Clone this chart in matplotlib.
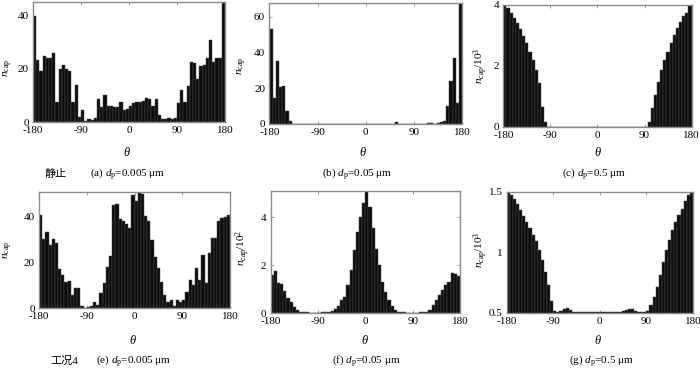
import numpy as np
import matplotlib
matplotlib.use("Agg")
import matplotlib.pyplot as plt

plt.rcParams['font.family'] = ['Liberation Serif', 'Noto Sans CJK SC']
plt.rcParams['mathtext.fontset'] = 'custom'
plt.rcParams['mathtext.rm'] = 'Liberation Serif'
plt.rcParams['mathtext.it'] = 'Liberation Serif:italic'

# 6-degree bins from -180 to 180
theta_left = np.arange(-180, 180, 6)

a_vals = [40, 23.3, 19, 25, 24, 24, 26, 7.5, 20, 21.5,
          20, 19, 7.5, 14, 2, 4.5, 0.5, 1, 0.7, 1.5,
          8.5, 5.5, 10, 6, 6, 5.5, 5.5, 7.5, 4.5, 5,
          6, 7, 7.5, 7.5, 8, 9, 8.5, 6, 8.5, 2.5,
          1, 1, 1.5, 1, 1.5, 7, 12, 7.5, 13.5, 22.5,
          22, 16, 21, 21.5, 24, 31, 22.5, 24, 24, 48]

b_vals = [53, 14.5, 35, 20.5, 21.5, 7.5, 1.5, 0, 0, 0,
          0, 0, 0, 0, 0, 0, 0, 0, 0, 0,
          0, 0, 0, 0, 0, 0, 0, 0, 0, 0,
          0, 0, 0, 0, 0, 0, 0, 0, 0, 1,
          0, 0, 0, 0, 0, 0, 0, 0, 0, 0.8,
          0.8, 0, 0.5, 1, 1.5, 10, 24, 37, 12, 70]

c_vals = [4.0, 3.88, 3.74, 3.58, 3.39, 3.19, 2.97, 2.73, 2.46, 2.19,
          1.86, 1.42, 0.66, 0.16, 0, 0, 0, 0, 0, 0,
          0, 0, 0, 0, 0, 0, 0, 0, 0, 0,
          0, 0, 0, 0, 0, 0, 0, 0, 0, 0,
          0, 0, 0, 0, 0, 0, 0.16, 0.6, 1.04, 1.48,
          1.86, 2.19, 2.46, 2.73, 3.0, 3.22, 3.44, 3.63, 3.72, 4.05]

e_vals = [41, 30.5, 33.5, 27.5, 30.5, 28.5, 17, 14.5, 11.5, 12,
          6, 9, 9, 0.8, 0.3, 0.5, 1, 2.6, 1.5, 6.6,
          11, 18, 23, 45, 45.5, 39, 38, 37, 35, 49.5,
          47, 51, 50, 40.5, 38, 30, 22.5, 17.5, 11.7, 5.8,
          2.9, 3.6, 1, 3.6, 2.6, 3.6, 7, 12.4, 10, 17.8,
          12.4, 23.4, 11, 24, 30.7, 30.7, 38, 39.4, 40, 41]

f_vals = [1.6, 1.76, 1.25, 1.21, 0.93, 0.65, 0.49, 0.28, 0.14, 0.07,
          0.05, 0.04, 0.03, 0.03, 0.03, 0.03, 0.04, 0.05, 0.06, 0.08,
          0.18, 0.32, 0.55, 0.69, 1.18, 1.8, 2.64, 3.4, 4.0, 4.6,
          5.2, 4.44, 3.54, 2.7, 2.0, 1.32, 0.87, 0.55, 0.32, 0.14,
          0.07, 0.05, 0.04, 0.03, 0.03, 0.03, 0.03, 0.04, 0.05, 0.07,
          0.14, 0.35, 0.55, 0.76, 0.97, 1.18, 1.32, 1.67, 1.63, 1.57]

g_vals = [1.5, 1.47, 1.44, 1.40, 1.35, 1.30, 1.25, 1.20, 1.14, 1.09,
          1.02, 0.935, 0.84, 0.73, 0.60, 0.51, 0.505, 0.515, 0.53, 0.535,
          0.52, 0.505, 0.505, 0.505, 0.505, 0.505, 0.505, 0.505, 0.505, 0.505,
          0.505, 0.505, 0.505, 0.505, 0.505, 0.505, 0.505, 0.51, 0.52, 0.53,
          0.53, 0.515, 0.505, 0.505, 0.505, 0.51, 0.56, 0.63, 0.71, 0.81,
          0.92, 1.02, 1.10, 1.18, 1.25, 1.31, 1.36, 1.42, 1.47, 1.52]

x_ticks = [-180, -90, 0, 90, 180]

panels = [
    # values, axes rect, ylim, yticks, yticklabels, ylabel
    (a_vals, [0.0471, 0.670, 0.2743, 0.324], (0, 45), [0, 20, 40], ['0', '20', '40'], r'$n_{\rm cap}$'),
    (b_vals, [0.3847, 0.665, 0.2757, 0.328], (0, 68), [0, 20, 40, 60], ['0', '20', '40', '60'], r'$n_{\rm cap}$'),
    (c_vals, [0.7190, 0.6576, 0.2690, 0.3297], (0, 4), [0, 2, 4], ['0', '2', '4'], r'$n_{\rm cap}/10^3$'),
    (e_vals, [0.0557, 0.1668, 0.2729, 0.315], (0, 51), [0, 20, 40], ['0', '20', '40'], r'$n_{\rm cap}$'),
    (f_vals, [0.3867, 0.1532, 0.2704, 0.3305], (0, 5.1), [0, 2, 4], ['0', '2', '4'], r'$n_{\rm cap}/10^2$'),
    (g_vals, [0.7239, 0.1549, 0.2660, 0.327], (0.5, 1.5), [0.5, 1, 1.5], ['0.5', '1', '1.5'], r'$n_{\rm cap}/10^3$'),
]

fig = plt.figure(figsize=(7, 3.7), dpi=100)
spine_col = '#8c8c8c'
axes = []
for vals, rect, ylim, yt, ytl, ylab in panels:
    ax = fig.add_axes(rect)
    ax.bar(theta_left, vals, width=6, align='edge', color='#0d0d0d',
           edgecolor='#4a4a4a', linewidth=0.35, zorder=2)
    ax.set_xlim(-180, 180)
    ax.set_ylim(*ylim)
    ax.set_xticks(x_ticks)
    ax.set_xticklabels([str(t) for t in x_ticks])
    ax.set_yticks(yt)
    ax.set_yticklabels(ytl)
    ax.tick_params(direction='in', length=2, width=0.6, color=spine_col,
                   top=True, right=True, labelsize=8, pad=3)
    for s in ax.spines.values():
        s.set_color(spine_col)
        s.set_linewidth(1.0)
    axes.append(ax)

W, H = 700.0, 370.0
def fx(px):
    return px / W
def fy(py):
    return 1 - py / H

# y labels
ylabel_pos = [(8, 68), (242, 66), (481, 66), (8, 250), (243, 248), (481, 250)]
for (px, py), p in zip(ylabel_pos, panels):
    fig.text(fx(px), fy(py), p[5], rotation=90, ha='center', va='center', fontsize=8)

# theta labels
theta_pos = [(127, 153), (363, 153), (598, 153), (133, 340), (365, 340), (598, 340)]
for px, py in theta_pos:
    fig.text(fx(px), fy(py), r'$\theta$', ha='center', va='center', fontsize=9)

# captions
cap_font = 8
cap_y2 = 361
fig.text(fx(56), fy(174), '静止', ha='center', va='center', fontsize=cap_font)
fig.text(fx(128), fy(174), r'(a) $d_{\rm p}$=0.005 μm', ha='center', va='center', fontsize=cap_font)
fig.text(fx(357), fy(174), r'(b) $d_{\rm p}$=0.05 μm', ha='center', va='center', fontsize=cap_font)
fig.text(fx(594), fy(174), r'(c) $d_{\rm p}$=0.5 μm', ha='center', va='center', fontsize=cap_font)
fig.text(fx(64), fy(cap_y2), '工况4', ha='center', va='center', fontsize=cap_font)
fig.text(fx(134), fy(cap_y2), r'(e) $d_{\rm p}$=0.005 μm', ha='center', va='center', fontsize=cap_font)
fig.text(fx(366), fy(cap_y2), r'(f) $d_{\rm p}$=0.05 μm', ha='center', va='center', fontsize=cap_font)
fig.text(fx(601), fy(cap_y2), r'(g) $d_{\rm p}$=0.5 μm', ha='center', va='center', fontsize=cap_font)

fig.savefig('out.png', dpi=100)
